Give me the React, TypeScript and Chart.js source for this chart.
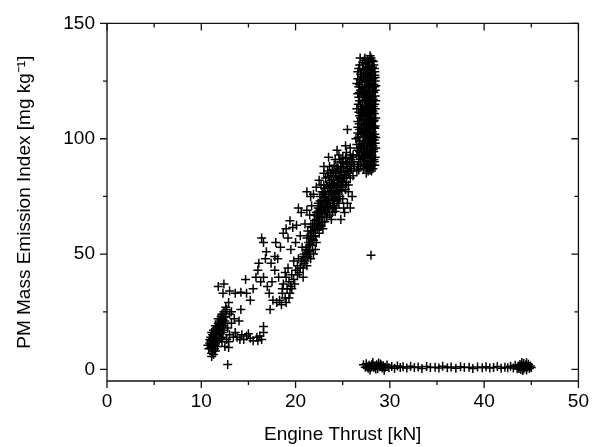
import React, { useEffect, useRef } from "react";
import { Chart, registerables } from "chart.js";

Chart.register(...registerables);

// Axis ticks
const xTicks = [0, 10, 20, 30, 40, 50];
const yTicks = [0, 50, 100, 150];
const xMinorTicks = [5, 15, 25, 35, 45];
const yMinorTicks = [25, 75, 125];

// [Engine thrust kN, PM mass EI mg/kg]
const lowPowerCluster: [number, number][] = [
  [10.8, 9], [11.0, 11], [10.9, 13], [11.2, 8], [11.1, 10], [11.3, 12], [11.0, 14], [11.4, 9],
  [11.2, 15], [11.5, 11], [11.3, 13], [11.6, 14], [11.4, 16], [11.7, 12], [11.5, 17], [11.8, 15],
  [11.6, 18], [11.9, 13], [11.7, 19], [12.0, 16], [11.8, 20], [12.1, 18], [11.9, 21], [12.2, 14],
  [12.0, 22], [12.3, 19], [12.1, 23], [12.4, 17], [12.2, 24], [12.5, 21], [12.6, 20], [11.1, 7],
  [11.3, 6.5], [11.0, 9.5], [11.2, 11.5], [11.5, 8], [11.4, 13.5], [11.7, 10], [11.6, 15.5],
  [11.9, 17.5], [12.0, 19.5], [12.3, 21.5], [11.3, 17], [11.1, 16], [12.2, 12], [12.4, 25],
  [12.6, 23], [12.7, 26], [10.9, 11.5], [11.5, 19], [11.8, 22], [12.1, 13.5], [12.5, 10],
  [12.9, 12], [12.8, 2.2], [12.7, 13], [13.0, 15], [10.7, 10.5], [11.0, 12.5], [11.4, 10.5],
  [11.6, 12.5], [11.8, 17], [12.2, 20.5], [12.4, 22.5], [11.2, 13.5], [11.5, 15.5], [11.9, 19],
  [12.3, 16], [11.1, 5.6], [12.9, 9.5],
];

const lowBranch: [number, number][] = [
  [13.4, 14], [13.8, 14], [14.1, 13], [14.5, 13], [14.8, 14.5], [15.2, 13.5], [15.5, 12.5],
  [15.9, 14], [16.2, 14.5], [16.6, 16], [16.6, 18.6], [13.6, 16], [14.3, 15], [15.0, 15.5],
  [16.0, 12.5], [16.4, 13], [13.2, 20], [13.5, 22], [13.0, 24], [14.0, 21], [12.8, 18],
];

const upperBranch: [number, number][] = [
  [11.8, 36], [12.4, 37], [12.3, 33], [13.0, 34], [13.6, 33], [14.2, 33.5], [14.8, 33], [14.7, 39],
  [15.2, 30], [14.2, 26], [12.6, 27], [13.2, 25], [12.9, 29], [15.5, 35], [15.8, 40], [16.3, 38],
  [16.0, 43], [16.6, 40], [17.0, 36], [17.2, 33], [17.6, 30], [17.3, 26], [18.0, 29], [17.5, 38],
  [16.4, 57], [16.6, 55], [16.9, 51], [16.8, 48], [17.4, 46], [18.4, 53], [18.1, 48], [17.8, 43],
  [18.9, 42], [18.2, 40], [18.6, 35], [17.8, 49], [16.1, 46], [17.9, 55], [19.5, 52], [19.0, 61],
  [19.7, 61.5], [19.4, 64.5], [20.1, 62.5], [18.7, 59], [19.2, 57], [20.3, 70], [20.6, 68],
  [21.2, 69], [21.5, 67], [21.0, 63], [21.2, 77], [21.6, 75], [21.9, 76], [21.7, 71], [22.2, 79],
  [22.5, 82], [23.0, 88], [23.5, 92], [20.5, 58], [20.0, 55], [19.2, 44], [19.8, 47],
];

const mainBand: [number, number][] = [
  [18.3, 30], [18.6, 33], [18.9, 31], [19.1, 35], [18.7, 37], [19.3, 38], [19.0, 40], [19.5, 36],
  [19.6, 41], [19.8, 39], [20.0, 43], [19.4, 33], [18.5, 28], [20.2, 45], [20.4, 42], [20.6, 47],
  [20.3, 48], [20.8, 44], [20.9, 50], [21.0, 47], [21.1, 52], [20.7, 53], [21.3, 49], [21.4, 55],
  [21.2, 57], [21.5, 51], [21.6, 58], [21.8, 54], [21.7, 60], [21.9, 56], [22.0, 62], [22.1, 58],
  [21.8, 63], [22.3, 61], [22.2, 65], [22.4, 63], [22.0, 67], [22.5, 66], [22.6, 69], [22.3, 68],
  [22.7, 71], [22.8, 64], [22.4, 72], [22.9, 70], [23.0, 73], [22.6, 75], [23.1, 68], [23.2, 76],
  [22.8, 77], [23.3, 72], [23.4, 79], [23.0, 80], [23.5, 74], [23.6, 81], [23.2, 83], [23.7, 77],
  [23.8, 84], [23.4, 86], [23.9, 80], [24.0, 82], [24.1, 76], [24.2, 85], [23.7, 71], [24.3, 79],
  [24.4, 88], [24.0, 74], [24.5, 83], [24.6, 78], [24.7, 86], [24.8, 81], [24.3, 70], [24.9, 84],
  [25.0, 79], [25.1, 88], [25.2, 83], [25.3, 86], [25.4, 81], [25.5, 90], [25.6, 85], [25.7, 88],
  [25.8, 83], [25.9, 91], [25.0, 74], [24.6, 72], [23.9, 68], [23.3, 66], [22.9, 61], [22.5, 59],
  [22.1, 52], [21.6, 48], [21.2, 45], [20.8, 40], [23.5, 70], [24.1, 71], [24.7, 75], [23.8, 75],
  [23.1, 64], [22.6, 62], [22.2, 55], [21.9, 50], [24.8, 90], [24.2, 91], [25.4, 94], [25.9, 87],
  [26.1, 84], [23.6, 88], [23.0, 85], [22.7, 80], [25.5, 72], [25.8, 70], [26.0, 75], [25.2, 68],
  [24.8, 65], [25.6, 77], [25.1, 70], [24.4, 95], [24.6, 93], [25.0, 92],
];

const mainBandCore: [number, number][] = [
  [20.9, 46], [21.1, 48.5], [20.8, 49], [21.4, 51.5], [21.2, 53], [21.5, 54], [21.7, 56.5],
  [21.4, 58], [21.9, 59], [22.1, 60.5], [21.8, 61.5], [22.2, 63], [22.5, 64], [22.0, 64.5],
  [22.7, 66], [22.3, 66.5], [22.9, 67.5], [22.5, 68], [23.2, 69], [22.7, 69.5], [23.4, 70.5],
  [23.0, 71], [23.6, 72], [22.8, 73], [23.3, 73.5], [23.9, 73.5], [23.1, 74.5], [24.2, 74.5],
  [23.5, 76], [24.5, 76.5], [23.0, 77], [24.0, 77.5], [23.7, 78.5], [24.4, 79.5], [24.8, 79],
  [23.3, 80], [24.1, 80.5], [25.0, 81.5], [23.8, 82], [24.6, 82], [23.5, 83.5], [24.3, 83.5],
  [25.2, 84.5], [24.0, 85], [24.8, 85.5], [23.9, 86.5], [25.5, 87], [24.5, 87], [24.1, 88.5],
  [25.0, 89.5], [25.7, 90], [24.7, 91], [25.3, 91.5], [26.0, 90], [25.8, 93], [22.4, 70],
  [22.2, 68], [21.6, 62], [21.3, 60], [22.9, 76], [23.6, 67], [24.4, 73], [24.9, 77.5],
  [25.3, 78], [22.6, 73], [24.2, 68.5], [23.8, 65], [25.4, 84], [25.6, 80], [20.5, 44],
  [20.2, 41], [19.9, 37], [19.6, 35], [19.3, 31], [19.0, 29],
  [22.8, 68], [23.4, 68], [23.9, 71], [24.6, 74], [23.2, 72], [22.6, 71], [23.8, 77],
  [24.3, 77], [24.9, 80], [23.6, 79.5], [23.1, 78.5], [24.5, 81], [25.1, 83], [24.3, 86],
  [24.9, 87.5], [25.4, 89], [23.7, 85], [22.9, 64], [22.4, 62], [21.9, 57.5], [21.6, 55],
  [21.2, 50.5], [22.7, 62], [24.0, 70], [25.3, 80], [25.8, 86], [26.2, 89], [26.1, 93],
];

const highPowerCluster: [number, number][] = [
  [27.9, 136], [28.1, 134], [27.7, 133], [28.3, 132], [27.5, 131], [28.0, 130], [28.4, 129],
  [27.8, 128], [27.4, 127], [28.2, 126], [27.6, 125], [28.0, 124], [28.5, 123], [27.3, 122],
  [27.9, 121], [28.3, 120], [27.6, 119], [28.1, 118], [27.4, 117], [27.8, 116], [28.4, 115],
  [27.5, 114], [28.0, 113], [28.2, 112], [27.7, 111], [27.3, 110], [28.5, 109], [27.9, 108],
  [27.5, 107], [28.1, 106], [28.3, 105], [27.6, 104], [27.8, 103], [28.4, 102], [27.4, 101],
  [28.0, 100], [27.7, 99], [28.2, 98], [27.5, 97], [28.5, 96], [27.9, 95], [27.3, 94], [28.1, 93],
  [27.6, 92], [28.3, 91], [27.8, 90], [27.5, 89], [28.0, 88], [28.2, 87], [27.7, 86],
  [28.0, 135], [27.6, 130.5], [28.4, 127.5], [27.9, 125.5], [27.5, 122.5], [28.2, 120.5],
  [27.7, 117.5], [28.5, 116.5], [27.4, 113.5], [28.1, 111.5], [27.8, 109.5], [27.6, 106.5],
  [28.4, 104.5], [27.3, 102.5], [28.0, 101.5], [27.9, 98.5], [27.5, 95.5], [28.3, 94.5],
  [27.7, 93.5], [28.1, 90.5], [27.4, 91.5], [28.4, 88.5], [27.9, 86.5], [27.6, 88], [28.2, 97],
  [27.5, 119.5], [28.3, 123.5], [27.8, 131.5], [28.1, 128.5], [27.4, 105.5], [28.5, 100.5],
  [27.7, 113], [26.8, 132], [26.6, 129], [27.0, 127], [26.5, 124], [26.9, 121], [26.7, 118],
  [27.1, 116], [26.5, 113], [26.8, 110], [27.0, 108], [26.6, 105], [26.9, 102], [26.4, 100],
  [27.1, 98], [26.7, 96], [26.5, 93], [26.9, 91], [27.2, 89], [26.6, 88], [27.0, 125],
  [26.7, 122.5], [27.2, 119], [26.9, 114], [27.1, 111], [26.6, 107.5], [26.8, 104], [27.2, 101],
  [26.5, 97.5], [26.8, 94.5], [27.1, 92], [26.7, 90], [27.2, 130], [27.2, 106], [27.2, 95.5],
  [26.5, 86], [27.5, 85], [27.9, 87.5], [26.2, 88], [25.8, 96], [25.5, 104], [26.0, 92],
  [25.3, 97], [28.0, 49.5],
];

const highPowerCore: [number, number][] = [
  [27.35, 135], [27.65, 134.5], [28.25, 133.5], [27.45, 132.5], [27.85, 129.5], [28.15, 131],
  [27.35, 128.5], [27.65, 127], [28.05, 126.5], [28.45, 125], [27.35, 124.5], [27.75, 123],
  [28.15, 122], [27.55, 121], [28.45, 121], [27.85, 119], [27.35, 118.5], [28.25, 117],
  [27.65, 115.5], [28.05, 115], [27.35, 114.5], [27.85, 112.5], [28.35, 111], [27.55, 110],
  [28.05, 109], [27.35, 108.5], [27.75, 107], [28.25, 107.5], [27.95, 105], [27.45, 103.5],
  [28.15, 103], [27.65, 101.5], [28.35, 99.5], [27.85, 100.5], [27.35, 99], [28.05, 97.5],
  [27.65, 96.5], [28.25, 95.5], [27.45, 93], [27.95, 92.5], [28.45, 92], [27.65, 90.5],
  [28.15, 89], [27.35, 88.5], [27.85, 88.5], [26.7, 130.5], [26.9, 128], [26.6, 126],
  [26.8, 123.5], [27.0, 120], [26.6, 119.5], [26.8, 116.5], [27.0, 113], [26.7, 111.5],
  [26.9, 109], [26.6, 102.5], [27.0, 104.5], [26.8, 99], [26.6, 95], [27.0, 94], [26.9, 89],
  [26.7, 86.5], [27.1, 122], [27.1, 133], [27.3, 134], [27.2, 126.5], [27.2, 112.5],
  [27.1, 103], [27.2, 97], [27.2, 87],
  [27.55, 133], [28.35, 130.5], [27.25, 129.5], [27.95, 127.5], [28.45, 126.5], [27.45, 125.5],
  [27.95, 123.5], [28.35, 122.5], [27.25, 120.5], [27.75, 120.5], [28.45, 118.5], [27.55, 116.5],
  [27.95, 117], [28.25, 114], [27.45, 112], [27.75, 114.5], [28.45, 113], [27.25, 111.5],
  [27.95, 110.5], [28.35, 108], [27.55, 108.5], [27.25, 106], [28.05, 106.5], [27.75, 104.5],
  [28.45, 105.5], [27.25, 104], [27.55, 102.5], [28.25, 101], [27.95, 102.5], [27.55, 99.5],
  [28.15, 99.5], [27.25, 97], [27.85, 97], [28.45, 98], [27.65, 94.5], [28.05, 94],
  [27.25, 92], [27.85, 91.5], [28.35, 90], [27.55, 87.5], [28.05, 86], [26.85, 125.5],
  [26.75, 120], [26.65, 115], [26.95, 111], [26.75, 106.5], [26.65, 100.5], [26.95, 96.5],
  [26.75, 92.5], [26.85, 135],
];

const idleLine: [number, number][] = [
  [27.2, 2], [27.4, 1], [27.5, 2.5], [27.7, 0.5], [27.8, 1.8], [28.0, 1], [28.1, 2.2], [28.3, 0.8],
  [28.4, 1.5], [28.6, 2], [28.7, 0.3], [28.9, 1.2], [29.0, 2.4], [29.2, 0.6], [29.3, 1.6],
  [29.5, 1], [29.7, 1.9], [29.9, 0.7], [30.2, 1.3], [30.5, 0.5], [30.8, 1.5], [31.1, 0.8],
  [31.4, 1.2], [31.8, 0.6], [32.2, 1.4], [32.6, 0.9], [33.0, 1.1], [33.4, 0.4], [33.9, 1.3],
  [34.3, 0.8], [34.8, 1.0], [35.2, 0.6], [35.6, 1.4], [36.1, 0.7], [36.5, 1.1], [37.0, 0.5],
  [37.5, 1.2], [37.9, 0.8], [38.4, 1.0], [38.8, 0.4], [39.3, 1.1], [39.8, 0.7], [40.2, 1.2],
  [40.6, 0.6], [41.0, 0.9], [41.4, 1.3], [41.8, 0.5], [42.2, 1.0], [42.5, 0.7], [42.8, 1.4],
  [43.1, 0.6], [43.3, 1.8], [43.5, 0.3], [43.6, 1.2], [43.8, 2.2], [43.9, 0], [44.0, 1.5],
  [44.1, -0.5], [44.2, 2.6], [44.3, 0.8], [44.4, 1.9], [44.5, -0.2], [44.6, 1.1], [44.7, 2.3],
  [44.8, 0.4], [44.9, 1.5], [44.2, 0.2], [44.0, 3], [43.7, 0.4], [44.5, 2.9], [45.0, 0.9],
  [28.2, 3], [27.9, -0.2], [28.8, 2.8], [29.4, -0.3], [27.6, 1.2], [28.5, 0.2], [29.1, 1.8],
];

const groups = [
  lowPowerCluster, lowBranch, upperBranch, mainBand, mainBandCore,
  highPowerCluster, highPowerCore, idleLine,
];

const FONT = "'Liberation Sans', Arial, Helvetica, sans-serif";

const framePlugin = {
  id: "frameTicks",
  afterDatasetsDraw(chart: any) {
    const { ctx, chartArea } = chart;
    const { left, right, top, bottom } = chartArea;
    const xs = chart.scales.x;
    const ys = chart.scales.y;
    const MAJ = 7;
    const MIN = 4;
    ctx.save();
    ctx.strokeStyle = "#111";
    ctx.lineWidth = 1.3;
    ctx.beginPath();
    ctx.rect(left, top, right - left, bottom - top);
    ctx.stroke();
    ctx.beginPath();
    const xTick = (v: number, len: number) => {
      const px = xs.getPixelForValue(v);
      ctx.moveTo(px, bottom);
      ctx.lineTo(px, bottom + len);
      ctx.moveTo(px, top);
      ctx.lineTo(px, top + len);
    };
    const yTick = (v: number, len: number) => {
      const py = ys.getPixelForValue(v);
      ctx.moveTo(left, py);
      ctx.lineTo(left - len, py);
      ctx.moveTo(right, py);
      ctx.lineTo(right - len, py);
    };
    xTicks.forEach((v) => xTick(v, MAJ));
    xMinorTicks.forEach((v) => xTick(v, MIN));
    yTicks.forEach((v) => yTick(v, MAJ));
    yMinorTicks.forEach((v) => yTick(v, MIN));
    ctx.stroke();
    ctx.restore();
  },
};

export default function App() {
  const canvasRef = useRef<HTMLCanvasElement | null>(null);

  useEffect(() => {
    if (!canvasRef.current) return;
    const datasets = groups.map((g) => ({
      data: g.map(([x, y]) => ({ x, y })),
      pointStyle: "cross" as const,
      pointRadius: 4.5,
      pointHoverRadius: 4.5,
      borderColor: "#000",
      backgroundColor: "#000",
      borderWidth: 1.5,
      showLine: false,
    }));
    const chart = new Chart(canvasRef.current, {
      type: "scatter",
      data: { datasets },
      options: {
        animation: false,
        responsive: false,
        devicePixelRatio: 1,
        events: [],
        layout: { padding: { top: 23, right: 14, left: 0, bottom: 0 } },
        plugins: {
          legend: { display: false },
          tooltip: { enabled: false },
        },
        scales: {
          x: {
            type: "linear",
            min: 0,
            max: 50,
            grid: { display: false, drawTicks: false },
            border: { display: false },
            afterBuildTicks: (s: any) => {
              s.ticks = xTicks.map((v) => ({ value: v }));
            },
            afterFit: (s: any) => {
              s.height = 66;
            },
            ticks: {
              color: "#000",
              padding: 9,
              maxRotation: 0,
              font: { family: FONT, size: 19 },
            },
            title: {
              display: true,
              text: "Engine Thrust [kN]",
              color: "#000",
              font: { family: FONT, size: 19 },
              padding: { top: 0, bottom: 1 },
            },
          },
          y: {
            type: "linear",
            min: -5,
            max: 150,
            grid: { display: false, drawTicks: false },
            border: { display: false },
            afterBuildTicks: (s: any) => {
              s.ticks = yTicks.map((v) => ({ value: v }));
            },
            afterFit: (s: any) => {
              s.width = 107;
            },
            ticks: {
              color: "#000",
              padding: 12,
              font: { family: FONT, size: 19 },
            },
            title: {
              display: true,
              text: "PM Mass Emission Index [mg kg\u207B\u00B9]",
              color: "#000",
              font: { family: FONT, size: 19 },
              padding: { top: 13, bottom: 0 },
            },
          },
        },
      },
      plugins: [framePlugin],
    });
    return () => chart.destroy();
  }, []);

  return (
    <div style={{ position: "fixed", left: 0, top: 0, width: 598, height: 447, background: "#fff" }}>
      <canvas ref={canvasRef} width={598} height={447} style={{ display: "block" }} />
    </div>
  );
}
